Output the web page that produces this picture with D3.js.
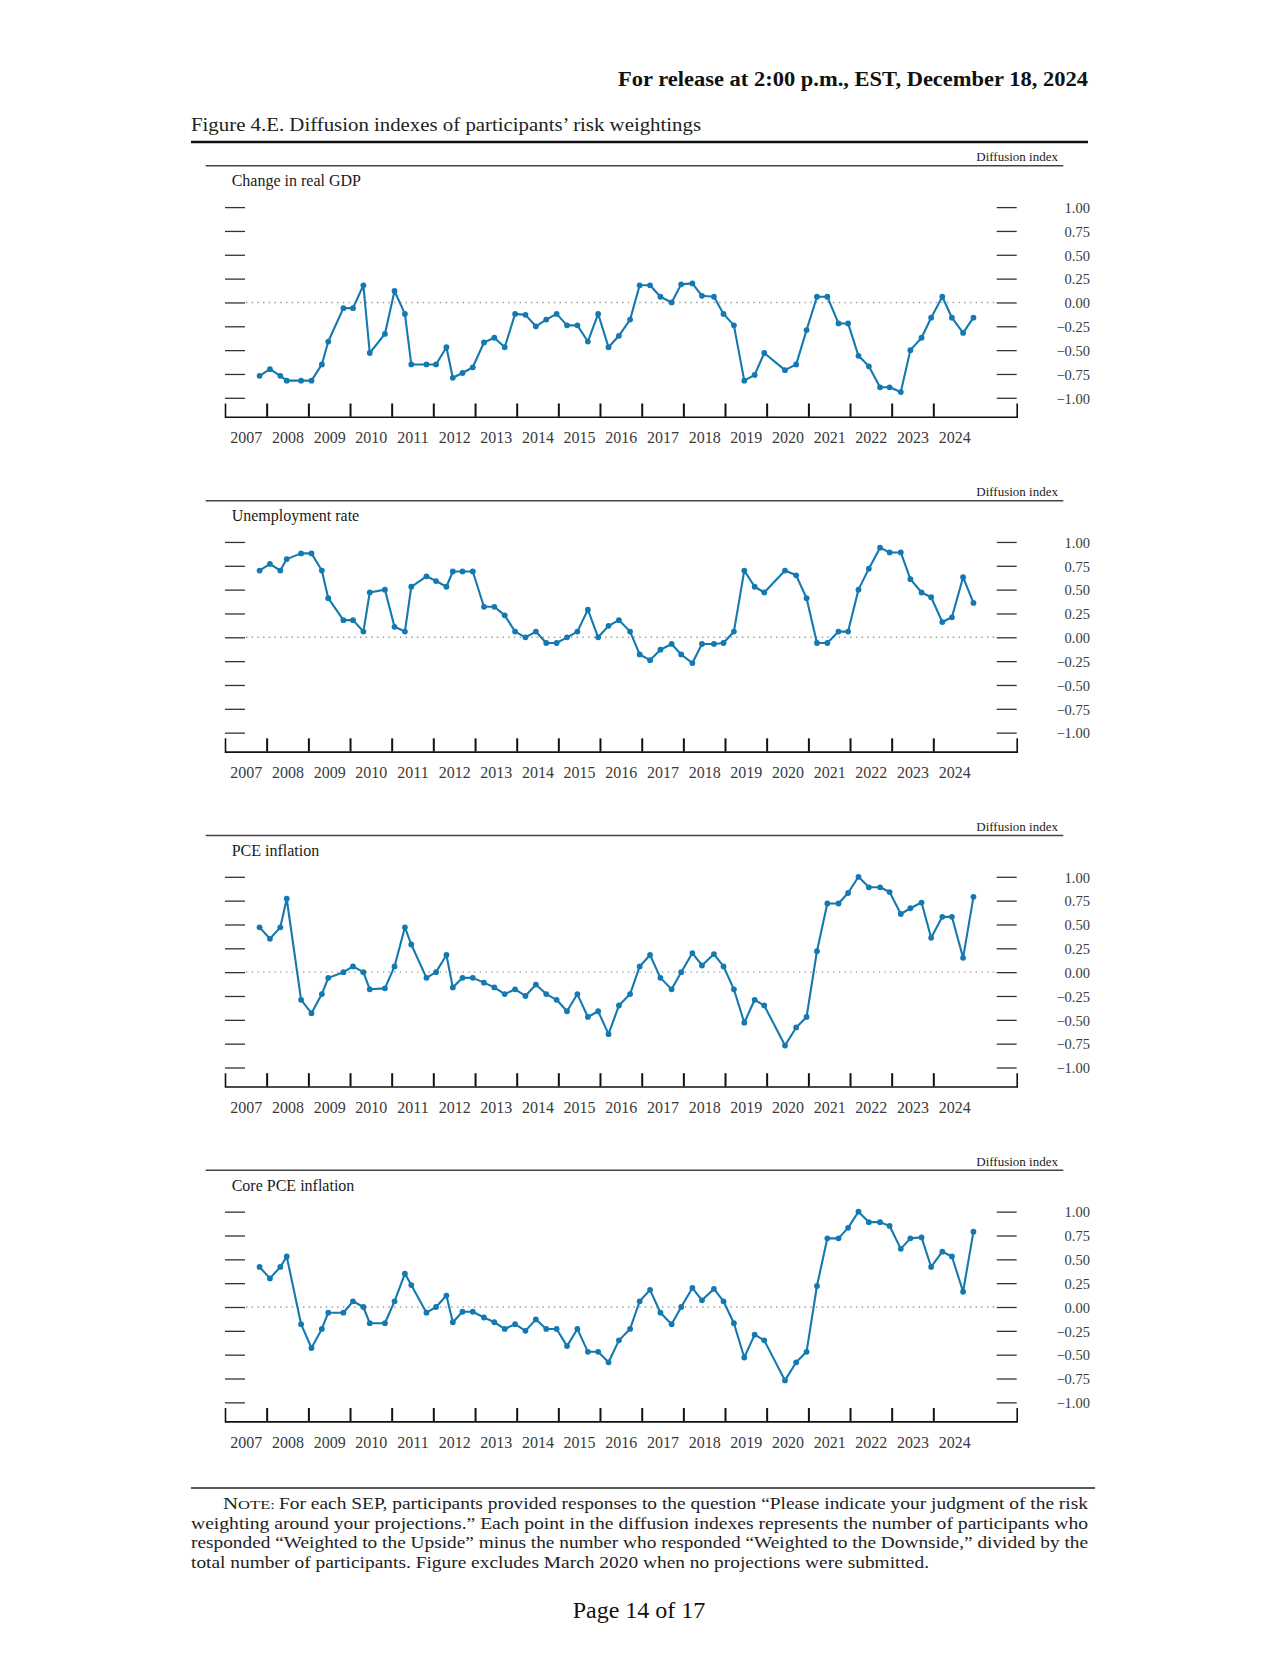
<!DOCTYPE html>
<html>
<head>
<meta charset="utf-8">
<script src="https://cdn.jsdelivr.net/npm/d3@7"></script>
<style>
body { margin: 0; background: #fff; }
svg { display: block; }
text { font-family: "Liberation Serif", "DejaVu Serif", serif; }
</style>
</head>
<body>
<svg id="page" width="1280" height="1656"></svg>
<script>
// SEP meeting dates (March 2020 has no projections)
var DATES = [
    "2007-10-31",
    "2008-01-30", "2008-04-30", "2008-06-25", "2008-10-29",
    "2009-01-28", "2009-04-29", "2009-06-24", "2009-11-04",
    "2010-01-27", "2010-04-28", "2010-06-23", "2010-11-03",
    "2011-01-26", "2011-04-27", "2011-06-22", "2011-11-02",
    "2012-01-25", "2012-04-25", "2012-06-20", "2012-09-13", "2012-12-12",
    "2013-03-20", "2013-06-19", "2013-09-18", "2013-12-18",
    "2014-03-19", "2014-06-18", "2014-09-17", "2014-12-17",
    "2015-03-18", "2015-06-17", "2015-09-17", "2015-12-16",
    "2016-03-16", "2016-06-15", "2016-09-21", "2016-12-14",
    "2017-03-15", "2017-06-14", "2017-09-20", "2017-12-13",
    "2018-03-21", "2018-06-13", "2018-09-26", "2018-12-19",
    "2019-03-20", "2019-06-19", "2019-09-18", "2019-12-11",
    "2020-06-10", "2020-09-16", "2020-12-16",
    "2021-03-17", "2021-06-16", "2021-09-22", "2021-12-15",
    "2022-03-16", "2022-06-15", "2022-09-21", "2022-12-14",
    "2023-03-22", "2023-06-14", "2023-09-20", "2023-12-13",
    "2024-03-20", "2024-06-12", "2024-09-18", "2024-12-18"
];

var GDP = [
    -0.77, -0.70, -0.77, -0.82, -0.82, -0.82, -0.65, -0.41, -0.06,
    -0.06, 0.18, -0.53, -0.33,
    0.12, -0.12, -0.65, -0.65,
    -0.65, -0.47, -0.79, -0.74, -0.68,
    -0.42, -0.37, -0.47, -0.12,
    -0.13, -0.25, -0.18, -0.12,
    -0.24, -0.24, -0.41, -0.12,
    -0.47, -0.35, -0.18, 0.18,
    0.18, 0.06, 0.00, 0.19,
    0.20, 0.07, 0.06, -0.12,
    -0.24, -0.82, -0.76, -0.53,
    -0.71, -0.65, -0.29,
    0.06, 0.06, -0.22, -0.22,
    -0.56, -0.67, -0.89, -0.89,
    -0.94, -0.50, -0.37, -0.16,
    0.06, -0.16, -0.32, -0.16
];

var UNEMP = [
    0.70, 0.77, 0.70, 0.82, 0.88, 0.88, 0.70, 0.41, 0.18,
    0.18, 0.06, 0.47, 0.50,
    0.11, 0.06, 0.53, 0.64,
    0.59, 0.53, 0.69, 0.69, 0.69,
    0.32, 0.32, 0.23, 0.06,
    0.00, 0.06, -0.06, -0.06,
    0.00, 0.06, 0.29, 0.00,
    0.12, 0.18, 0.06, -0.18,
    -0.24, -0.13, -0.07, -0.18,
    -0.27, -0.07, -0.07, -0.06,
    0.06, 0.70, 0.53, 0.47,
    0.70, 0.65, 0.41,
    -0.06, -0.06, 0.06, 0.06,
    0.50, 0.72, 0.94, 0.89,
    0.89, 0.61, 0.47, 0.42,
    0.16, 0.21, 0.63, 0.36
];

var PCE = [
    0.47, 0.35, 0.47, 0.77, -0.29, -0.43, -0.23, -0.06, 0.00,
    0.06, 0.00, -0.18, -0.17,
    0.06, 0.47, 0.29, -0.06,
    0.00, 0.18, -0.16, -0.06, -0.06,
    -0.11, -0.16, -0.23, -0.18,
    -0.25, -0.13, -0.23, -0.29,
    -0.41, -0.23, -0.47, -0.41,
    -0.65, -0.35, -0.23, 0.06,
    0.18, -0.06, -0.18, 0.00,
    0.20, 0.07, 0.19, 0.06,
    -0.18, -0.53, -0.29, -0.35,
    -0.77, -0.58, -0.47,
    0.22, 0.72, 0.72, 0.83,
    1.00, 0.89, 0.89, 0.84,
    0.61, 0.67, 0.73, 0.36,
    0.58, 0.58, 0.15, 0.79
];

var CORE_PCE = [
    0.42, 0.30, 0.42, 0.53, -0.18, -0.43, -0.23, -0.06, -0.06,
    0.06, 0.00, -0.17, -0.17,
    0.06, 0.35, 0.23, -0.06,
    0.00, 0.12, -0.16, -0.05, -0.05,
    -0.11, -0.16, -0.23, -0.18,
    -0.25, -0.13, -0.23, -0.23,
    -0.41, -0.23, -0.47, -0.47,
    -0.58, -0.35, -0.23, 0.06,
    0.18, -0.06, -0.18, 0.00,
    0.20, 0.07, 0.19, 0.06,
    -0.17, -0.53, -0.29, -0.35,
    -0.77, -0.58, -0.47,
    0.22, 0.72, 0.72, 0.83,
    1.00, 0.89, 0.89, 0.85,
    0.61, 0.72, 0.73, 0.42,
    0.58, 0.53, 0.16, 0.79
];

var PANEL_TITLES = ["Change in real GDP", "Unemployment rate", "PCE inflation", "Core PCE inflation"];
var PANEL_SERIES = [GDP, UNEMP, PCE, CORE_PCE];
var Y_TICKS = [-1, -0.75, -0.5, -0.25, 0, 0.25, 0.5, 0.75, 1];
var YEARS = d3.range(2007, 2025);   // labelled years
var UNITS = "Diffusion index";

var BLUE = "#1479b0";
var parseDate = d3.timeParse("%Y-%m-%d");

var svg = d3.select("#page");

// fit a line of text to a given width
function fitText(sel, w) {
    sel.attr("textLength", w).attr("lengthAdjust", "spacingAndGlyphs");
}

// Header
svg.append("text")
    .attr("x", 618).attr("y", 86)
    .attr("font-size", 20).attr("font-weight", "bold")
    .attr("fill", "#111")
    .text("For release at 2:00 p.m., EST, December 18, 2024")
    .call(fitText, 470);

svg.append("text")
    .attr("x", 191).attr("y", 131)
    .attr("font-size", 19).attr("fill", "#222")
    .text("Figure 4.E. Diffusion indexes of participants\u2019 risk weightings")
    .call(fitText, 510);

svg.append("line")
    .attr("x1", 191).attr("x2", 1088)
    .attr("y1", 142).attr("y2", 142)
    .attr("stroke", "#111").attr("stroke-width", 2.4);

// Shared x scale
var x = d3.scaleTime()
    .domain([new Date(2007, 0, 1), new Date(2026, 0, 1)])
    .range([225, 1016.7]);

var points = DATES.map(function(d) { return parseDate(d); });

PANEL_SERIES.forEach(function(series, i) {
    var top = 165.8 + i * 334.85;
    var g = svg.append("g");

    var y = d3.scaleLinear().domain([-1, 1]).range([top + 232, top + 41.3]);

    // panel rule and units
    g.append("line")
        .attr("x1", 205.7).attr("x2", 1063.3)
        .attr("y1", top).attr("y2", top)
        .attr("stroke", "#444").attr("stroke-width", 1.5);
    g.append("text")
        .attr("x", 1058).attr("y", top - 4.5)
        .attr("text-anchor", "end")
        .attr("font-size", 13).attr("fill", "#222")
        .text(UNITS);
    g.append("text")
        .attr("x", 231.7).attr("y", top + 20.5)
        .attr("font-size", 16).attr("fill", "#1a1a1a")
        .text(PANEL_TITLES[i]);

    // left tick marks
    var leftAxis = g.append("g")
        .attr("transform", "translate(225,0)")
        .call(d3.axisRight(y).tickValues(Y_TICKS).tickSize(20).tickFormat(""));
    // right tick marks + labels
    var rightAxis = g.append("g")
        .attr("transform", "translate(996.7,0)")
        .call(d3.axisRight(y).tickValues(Y_TICKS).tickSize(20).tickFormat(d3.format(".2f")));
    [leftAxis, rightAxis].forEach(function(a) {
        a.select(".domain").remove();
        a.selectAll(".tick line").attr("stroke", "#333").attr("stroke-width", 1.3);
    });
    rightAxis.selectAll(".tick text")
        .attr("x", 93.3).attr("dy", "0.36em")
        .attr("text-anchor", "end")
        .attr("font-family", "Liberation Serif, serif")
        .attr("font-size", 14.5).attr("fill", "#3a3a3a");

    // dotted zero line
    g.append("line")
        .attr("x1", 246).attr("x2", 995)
        .attr("y1", y(0)).attr("y2", y(0))
        .attr("stroke", "#9a9a9a").attr("stroke-width", 1.4)
        .attr("stroke-dasharray", "1.4 4.3");

    // bottom axis: year ticks pointing up
    var axisY = top + 251;
    var bottom = g.append("g")
        .attr("transform", "translate(0," + axisY + ")")
        .call(d3.axisBottom(x)
            .tickValues(d3.range(2008, 2025).map(function(yr) { return new Date(yr, 0, 1); }))
            .tickSize(-13.3).tickSizeOuter(-13.3).tickFormat(""));
    bottom.select(".domain").attr("stroke", "#111").attr("stroke-width", 1.6);
    bottom.selectAll(".tick line").attr("stroke", "#111").attr("stroke-width", 2);

    // year labels centred in each year
    var labels = g.append("g")
        .attr("transform", "translate(0," + axisY + ")")
        .call(d3.axisBottom(x)
            .tickValues(YEARS.map(function(yr) { return new Date(yr, 6, 2); }))
            .tickSize(0).tickPadding(0).tickFormat(d3.timeFormat("%Y")));
    labels.select(".domain").remove();
    labels.selectAll(".tick text")
        .attr("y", 26.6).attr("dy", 0)
        .attr("font-family", "Liberation Serif, serif")
        .attr("font-size", 16).attr("fill", "#3a3a3a");

    // series
    var data = series.map(function(v, k) { return { date: points[k], value: v }; });
    var line = d3.line()
        .x(function(d) { return x(d.date); })
        .y(function(d) { return y(d.value); });
    g.append("path")
        .datum(data)
        .attr("d", line)
        .attr("fill", "none")
        .attr("stroke", BLUE).attr("stroke-width", 2.1)
        .attr("stroke-linejoin", "round");
    g.selectAll("circle")
        .data(data)
        .enter().append("circle")
        .attr("cx", function(d) { return x(d.date); })
        .attr("cy", function(d) { return y(d.value); })
        .attr("r", 2.9)
        .attr("fill", BLUE);
});

// Note
svg.append("line")
    .attr("x1", 191).attr("x2", 1095)
    .attr("y1", 1488).attr("y2", 1488)
    .attr("stroke", "#222").attr("stroke-width", 1.5);

var note = svg.append("g").attr("font-size", 17).attr("fill", "#222");
note.append("text")
    .attr("x", 223).attr("y", 1509)
    .call(function(t) {
        t.append("tspan").text("N");
        t.append("tspan").attr("font-size", 13.5).text("OTE:");
    })
    .call(fitText, 52);
note.append("text")
    .attr("x", 279).attr("y", 1509)
    .text("For each SEP, participants provided responses to the question \u201cPlease indicate your judgment of the risk")
    .call(fitText, 809);
note.append("text")
    .attr("x", 191).attr("y", 1528.5)
    .text("weighting around your projections.\u201d Each point in the diffusion indexes represents the number of participants who")
    .call(fitText, 897);
note.append("text")
    .attr("x", 191).attr("y", 1548)
    .text("responded \u201cWeighted to the Upside\u201d minus the number who responded \u201cWeighted to the Downside,\u201d divided by the")
    .call(fitText, 897);
note.append("text")
    .attr("x", 191).attr("y", 1567.5)
    .text("total number of participants. Figure excludes March 2020 when no projections were submitted.")
    .call(fitText, 738);

svg.append("text")
    .attr("x", 639).attr("y", 1618)
    .attr("text-anchor", "middle")
    .attr("font-size", 24).attr("fill", "#111")
    .text("Page 14 of 17");
</script>
</body>
</html>
